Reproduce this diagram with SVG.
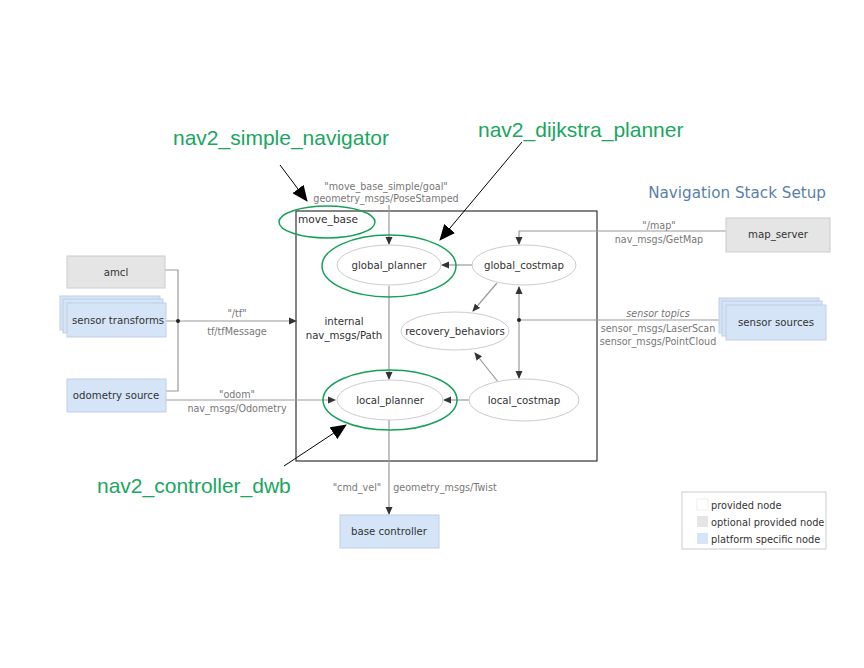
<svg xmlns="http://www.w3.org/2000/svg" width="864" height="668" viewBox="0 0 864 668">
<defs>
<marker id="ag" markerWidth="8" markerHeight="8" refX="7" refY="4" orient="auto" markerUnits="userSpaceOnUse"><path d="M0,0.5 L8,4 L0,7.5 z" fill="#333"/></marker>
<marker id="ags" markerWidth="8" markerHeight="8" refX="1" refY="4" orient="auto" markerUnits="userSpaceOnUse"><path d="M8,0.5 L0,4 L8,7.5 z" fill="#333"/></marker>
<marker id="ab" markerWidth="16" markerHeight="14" refX="15" refY="7" orient="auto" markerUnits="userSpaceOnUse"><path d="M0,0 L16,7 L0,14 z" fill="#000"/></marker>
</defs>
<style>
.t{font-family:"DejaVu Sans",sans-serif;font-size:10.2px;fill:#333;text-anchor:middle}
.l{font-family:"DejaVu Sans",sans-serif;font-size:9.6px;fill:#777;text-anchor:middle}
.g{font-family:"Liberation Sans",Arial,sans-serif;font-size:21px;fill:#1aa660}
.e{fill:#fff;stroke:#ccc;stroke-width:1}
.ge{fill:none;stroke:#16a05a;stroke-width:1.5}
.gray{fill:#e5e5e5;stroke:#ccc}
.blue{fill:#d5e5f7;stroke:#c0cfe2}
.c{fill:none;stroke:#999;stroke-width:1.2}
.k{fill:none;stroke:#000;stroke-width:1}
.lt{font-family:"DejaVu Sans",sans-serif;font-size:9.8px;fill:#333}
.mb{font-family:"DejaVu Sans",sans-serif;font-size:10.6px;fill:#333}
</style>
<rect width="864" height="668" fill="#fff"/>
<text x="826" y="198" font-family="DejaVu Sans,sans-serif" font-size="15.2" fill="#5a7fa9" text-anchor="end">Navigation Stack Setup</text>
<rect id="move_base_box" x="296" y="211" width="301" height="250" fill="none" stroke="#333" stroke-width="1.2"/>
<g id="connectors">
<path class="c" d="M389,205 V244" marker-end="url(#ag)"/>
<path class="c" d="M472,265 H442" marker-end="url(#ag)"/>
<path class="c" d="M726,231 H519 V244" marker-end="url(#ag)"/>
<path class="c" d="M497,283 L473,311" marker-end="url(#ag)"/>
<path class="c" d="M499,383 L475,353" marker-end="url(#ag)"/>
<path class="c" d="M470,400 H444" marker-end="url(#ag)"/>
<path class="c" d="M519,287 V378" marker-start="url(#ags)" marker-end="url(#ag)"/>
<path class="c" d="M726,320 H519"/>
<circle cx="519" cy="320" r="2" fill="#222"/>
<path class="c" d="M389,286 V379" marker-end="url(#ag)"/>
<path class="c" d="M389,420 V514" marker-end="url(#ag)"/>
<path class="c" d="M165,270 H178 V391 H165"/>
<path class="c" d="M166,321 H296" marker-end="url(#ag)"/>
<circle cx="178" cy="321" r="2" fill="#222"/>
<path class="c" d="M166,400 H335" marker-end="url(#ag)"/>
<path class="k" d="M280,165 L307,201" marker-end="url(#ab)"/>
<path class="k" d="M522,142 L440,240" marker-end="url(#ab)"/>
<path class="k" d="M284,466 L346,425" marker-end="url(#ab)"/>
</g>
<text class="l" x="386" y="190">"move_base_simple/goal"</text>
<text class="l" x="386" y="202">geometry_msgs/PoseStamped</text>
<text class="l" x="659" y="229">"/map"</text>
<text class="l" x="659" y="243">nav_msgs/GetMap</text>
<text class="l" x="658" y="317" font-style="italic">sensor topics</text>
<text class="l" x="658" y="332">sensor_msgs/LaserScan</text>
<text class="l" x="658" y="345">sensor_msgs/PointCloud</text>
<text class="l" x="237" y="317">"/tf"</text>
<text class="l" x="237" y="335">tf/tfMessage</text>
<text class="l" x="237" y="398">"odom"</text>
<text class="l" x="237" y="412">nav_msgs/Odometry</text>
<text class="t" x="344" y="325">internal</text>
<text class="t" x="344" y="339">nav_msgs/Path</text>
<text class="l" x="357" y="491">"cmd_vel"</text>
<text class="l" x="445" y="491">geometry_msgs/Twist</text>
<g id="move_base">
<text class="mb" x="298" y="223">move_base</text>
<ellipse class="ge" cx="327" cy="222" rx="48" ry="16"/>
</g>
<g id="global_planner">
<ellipse class="e" cx="389" cy="265" rx="52" ry="20"/>
<text class="t" x="389" y="269">global_planner</text>
<ellipse class="ge" cx="389" cy="266" rx="67" ry="31"/>
</g>
<g id="global_costmap">
<ellipse class="e" cx="524" cy="265" rx="52" ry="20"/>
<text class="t" x="524" y="269">global_costmap</text>
</g>
<g id="recovery_behaviors">
<ellipse class="e" cx="455" cy="331" rx="54" ry="19"/>
<text class="t" x="455" y="335">recovery_behaviors</text>
</g>
<g id="local_planner">
<ellipse class="e" cx="390" cy="400" rx="53" ry="20"/>
<text class="t" x="390" y="404">local_planner</text>
<ellipse class="ge" cx="390" cy="400" rx="67" ry="30"/>
</g>
<g id="local_costmap">
<ellipse class="e" cx="524" cy="400" rx="55" ry="21"/>
<text class="t" x="524" y="404">local_costmap</text>
</g>
<g id="amcl">
<rect class="gray" x="67" y="256" width="98" height="32"/>
<text class="t" x="116" y="276">amcl</text>
</g>
<g id="sensor_transforms">
<rect class="blue" x="60" y="296" width="100" height="34"/>
<rect class="blue" x="63" y="299" width="100" height="34"/>
<rect class="blue" x="67" y="303" width="99" height="34"/>
<text class="t" x="118" y="324">sensor transforms</text>
</g>
<g id="odometry_source">
<rect class="blue" x="67" y="379" width="99" height="33"/>
<text class="t" x="116" y="399">odometry source</text>
</g>
<g id="map_server">
<rect class="gray" x="726" y="218" width="104" height="34"/>
<text class="t" x="778" y="238">map_server</text>
</g>
<g id="sensor_sources">
<rect class="blue" x="719" y="298" width="100" height="35"/>
<rect class="blue" x="722" y="301" width="100" height="35"/>
<rect class="blue" x="726" y="305" width="100" height="35"/>
<text class="t" x="776" y="326">sensor sources</text>
</g>
<g id="base_controller">
<rect class="blue" x="340" y="515" width="99" height="33"/>
<text class="t" x="389" y="535">base controller</text>
</g>
<g id="legend">
<rect x="682" y="492" width="144" height="57" fill="#fff" stroke="#ccc"/>
<rect x="697" y="499" width="11" height="11" fill="#fff" stroke="#eee"/>
<rect x="697" y="516" width="11" height="11" fill="#e5e5e5"/>
<rect x="697" y="533" width="11" height="11" fill="#d5e5f7"/>
<text class="lt" x="711" y="509">provided node</text>
<text class="lt" x="711" y="526">optional provided node</text>
<text class="lt" x="711" y="543">platform specific node</text>
</g>
<g id="nav2_simple_navigator"><text class="g" x="173" y="145">nav2_simple_navigator</text></g>
<g id="nav2_dijkstra_planner"><text class="g" x="478" y="137">nav2_dijkstra_planner</text></g>
<g id="nav2_controller_dwb"><text class="g" x="97" y="493">nav2_controller_dwb</text></g>
</svg>
